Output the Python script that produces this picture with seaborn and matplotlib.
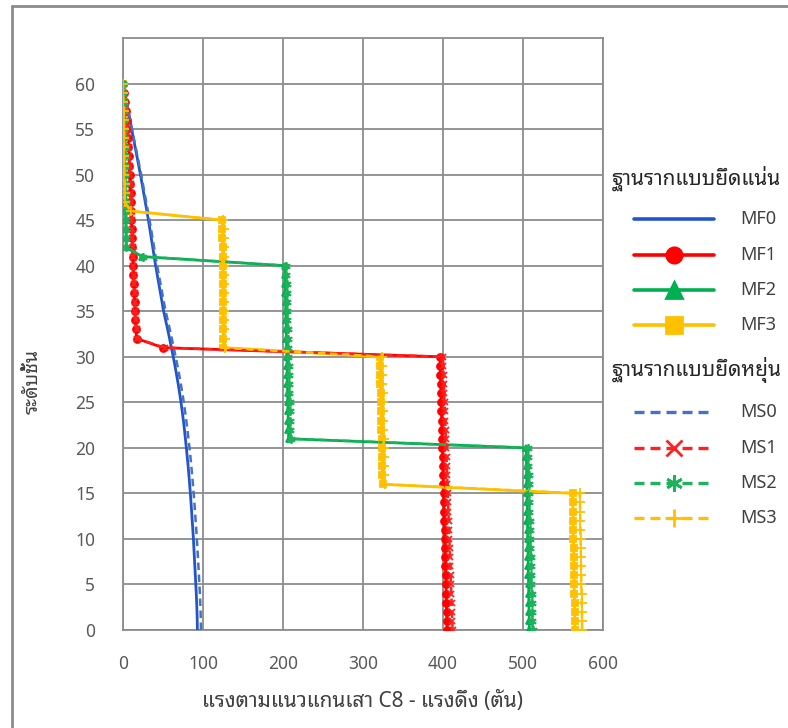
import matplotlib
matplotlib.use('Agg')
import matplotlib.pyplot as plt
from matplotlib.lines import Line2D
from matplotlib import font_manager, ft2font
import seaborn as sns
import pandas as pd

# floors 0..60
floors = list(range(61))

MF0 = [93.0, 92.8, 92.5, 92.1, 91.6, 91.0, 90.4, 89.8, 89.2, 88.6,
       88.0, 87.3, 86.5, 85.8, 85.0, 84.2, 83.3, 82.4, 81.4, 80.3,
       79.2, 78.0, 76.8, 75.5, 74.0, 72.5, 70.8, 69.0, 67.0, 65.0,
       62.8, 60.5, 58.2, 55.8, 53.3, 50.8, 48.8, 46.8, 44.8, 42.8,
       40.8, 39.0, 37.2, 35.4, 33.6, 31.8, 29.8, 27.8, 25.8, 23.8,
       21.8, 19.6, 17.4, 15.2, 13.0, 10.8, 8.6, 6.5, 4.3, 2.1, 0.0]
MS0 = [97.5, 97.3, 97.0, 96.6, 96.1, 95.5, 94.9, 94.3, 93.6, 93.0,
       92.3, 91.6, 90.8, 90.0, 89.2, 88.3, 87.4, 86.4, 85.4, 84.3,
       83.1, 81.8, 80.5, 79.1, 77.6, 76.0, 74.2, 72.3, 70.3, 68.1,
       65.8, 63.4, 61.0, 58.5, 55.9, 53.3, 51.1, 49.0, 46.9, 44.8,
       42.7, 40.8, 38.9, 37.0, 35.1, 33.2, 31.1, 29.0, 26.9, 24.8,
       22.7, 20.4, 18.1, 15.8, 13.5, 11.2, 8.9, 6.7, 4.5, 2.2, 0.0]
MF1 = [405.0, 404.8, 404.5, 404.2, 404.0, 403.7, 403.4, 403.1, 402.8, 402.5,
       402.2, 401.9, 401.6, 401.3, 401.0, 400.7, 400.4, 400.1, 399.8, 399.5,
       399.2, 398.9, 398.6, 398.3, 398.0, 397.7, 397.4, 397.1, 396.8, 396.5,
       396.2, 50.0, 17.0, 16.3, 15.6, 15.0, 14.5, 14.0, 13.5, 13.0,
       12.6, 12.2, 11.8, 11.4, 11.0, 10.6, 10.2, 9.8, 9.4, 9.0,
       8.5, 8.0, 7.4, 6.8, 6.1, 5.4, 4.6, 3.7, 2.7, 1.5, 0.0]
MS1 = [412.0, 411.6, 411.2, 410.8, 410.4, 410.0, 409.6, 409.2, 408.8, 408.4,
       408.0, 407.6, 407.2, 406.8, 406.4, 406.0, 405.6, 405.2, 404.8, 404.4,
       404.0, 403.6, 403.2, 402.8, 402.4, 402.0, 401.6, 401.2, 400.8, 400.4,
       400.0, 52.0, 17.6, 16.9, 16.2, 15.6, 15.0, 14.5, 14.0, 13.5,
       13.1, 12.7, 12.2, 11.8, 11.4, 11.0, 10.6, 10.2, 9.8, 9.4,
       8.9, 8.4, 7.8, 7.1, 6.4, 5.6, 4.8, 3.8, 2.8, 1.6, 0.0]
MF2 = [508.0, 507.8, 507.6, 507.4, 507.2, 507.0, 506.8, 506.6, 506.4, 506.2,
       506.0, 505.8, 505.6, 505.4, 505.2, 505.0, 504.8, 504.6, 504.4, 504.2,
       504.0, 207.0, 206.8, 206.5, 206.3, 206.0, 205.8, 205.5, 205.3, 205.0,
       204.8, 204.5, 204.3, 204.0, 203.8, 203.5, 203.3, 203.0, 202.8, 202.5,
       202.3, 24.0, 4.0, 3.8, 3.6, 3.4, 3.2, 3.0, 2.8, 2.6,
       2.4, 2.2, 2.0, 1.8, 1.6, 1.4, 1.2, 1.0, 0.7, 0.4, 0.0]
MS2 = [512.0, 511.7, 511.4, 511.1, 510.8, 510.5, 510.2, 509.9, 509.6, 509.3,
       509.0, 508.7, 508.4, 508.1, 507.8, 507.5, 507.2, 506.9, 506.6, 506.3,
       506.0, 209.5, 209.2, 208.9, 208.6, 208.3, 208.0, 207.7, 207.4, 207.1,
       206.8, 206.5, 206.2, 205.9, 205.6, 205.3, 205.0, 204.7, 204.4, 204.1,
       203.8, 25.0, 4.2, 4.0, 3.8, 3.6, 3.4, 3.2, 3.0, 2.8,
       2.6, 2.4, 2.2, 2.0, 1.8, 1.6, 1.3, 1.0, 0.7, 0.4, 0.0]
MF3 = [565.0, 564.8, 564.6, 564.4, 564.2, 564.0, 563.8, 563.6, 563.4, 563.2,
       563.0, 562.8, 562.6, 562.4, 562.2, 562.0, 324.5, 324.3, 324.0, 323.8,
       323.5, 323.3, 323.0, 322.8, 322.5, 322.3, 322.0, 321.8, 321.5, 321.3,
       321.0, 125.5, 125.4, 125.3, 125.2, 125.1, 125.0, 124.9, 124.8, 124.7,
       124.6, 124.5, 124.4, 124.3, 124.2, 124.0, 9.0, 2.0, 1.9, 1.8,
       1.7, 1.6, 1.5, 1.4, 1.3, 1.1, 0.9, 0.7, 0.5, 0.3, 0.0]
MS3 = [574.0, 573.8, 573.6, 573.4, 573.2, 573.0, 572.8, 572.6, 572.4, 572.2,
       572.0, 571.8, 571.6, 571.4, 571.2, 571.0, 327.0, 326.8, 326.5, 326.3,
       326.0, 325.8, 325.5, 325.3, 325.0, 324.8, 324.5, 324.3, 324.0, 323.8,
       323.5, 127.0, 126.9, 126.8, 126.7, 126.6, 126.5, 126.4, 126.3, 126.2,
       126.1, 126.0, 125.9, 125.8, 125.7, 125.5, 9.5, 2.1, 2.0, 1.9,
       1.8, 1.7, 1.6, 1.5, 1.4, 1.2, 1.0, 0.8, 0.5, 0.3, 0.0]

title_fixed = 'ฐานรากแบบยึดแน่น'
title_flex = 'ฐานรากแบบยึดหยุ่น'
x_label = 'แรงตามแนวแกนเสา C8 - แรงดึง (ตัน)'
y_label = 'ระดับชั้น'

series = {'MF0': MF0, 'MF1': MF1, 'MF2': MF2, 'MF3': MF3,
          'MS0': MS0, 'MS1': MS1, 'MS2': MS2, 'MS3': MS3}

dash = (0, (3, 1.8))
styles = {
    'MF0': dict(color='#2255CC', ls='-', marker=None, lw=2.0, ms=0),
    'MF1': dict(color='#FF0000', ls='-', marker='o', lw=2.0, ms=5),
    'MF2': dict(color='#00B050', ls='-', marker='^', lw=2.0, ms=5),
    'MF3': dict(color='#FFC000', ls='-', marker='s', lw=2.0, ms=5),
    'MS0': dict(color='#4472C4', ls=dash, marker=None, lw=1.8, ms=0),
    'MS1': dict(color='#FF2020', ls=dash, marker='x', lw=1.8, ms=5),
    'MS2': dict(color='#1DB35A', ls=dash, marker=(6, 2, 0), lw=1.8, ms=6),
    'MS3': dict(color='#FFC000', ls=dash, marker='+', lw=1.8, ms=7),
}


def thai_fonts():
    names = set()
    for f in font_manager.fontManager.ttflist:
        try:
            ft = ft2font.FT2Font(f.fname)
            if ft.get_char_index(ord('ก')) and ft.get_char_index(ord('0')):
                names.add(f.name)
        except Exception:
            pass
    return sorted(names)


sns.set_style('white')
available = thai_fonts()
preferred = ['Noto Sans Thai Looped', 'Noto Sans Thai', 'Sarabun', 'IBM Plex Sans Thai Looped']
thai = [n for n in preferred if n in available] + available
plt.rcParams['font.family'] = thai[:1] + ['DejaVu Sans']

rows = []
for name, vals in series.items():
    for fl, v in zip(floors, vals):
        rows.append((name, fl, v))
df = pd.DataFrame(rows, columns=['series', 'floor', 'force'])

fig = plt.figure(figsize=(7.88, 7.28), dpi=100)
ax = fig.add_axes([123 / 788, 1 - 630 / 728, 480 / 788, 592 / 728])

grid_c = '#8C8C8C'
for name in series:
    st = styles[name]
    sub = df[df['series'] == name]
    sns.lineplot(data=sub, x='force', y='floor', sort=False, estimator=None,
                 errorbar=None, ax=ax, color=st['color'], linestyle=st['ls'],
                 linewidth=st['lw'], marker=st['marker'], markersize=st['ms'],
                 markeredgewidth=1.3, markeredgecolor=st['color'], zorder=3)

ax.set_xlim(0, 600)
ax.set_ylim(0, 65)
ax.set_xticks(range(0, 601, 100))
ax.set_yticks(range(0, 61, 5))
ax.grid(True, color=grid_c, linewidth=1.3)
ax.set_axisbelow(True)
for sp in ax.spines.values():
    sp.set_color(grid_c)
    sp.set_linewidth(1.3)
ax.tick_params(axis='both', length=0, labelsize=12.5, labelcolor='#595959')
ax.tick_params(axis='x', pad=18)
ax.tick_params(axis='y', pad=20)
ax.set_xlabel(x_label, fontsize=15, color='#404040', labelpad=13)
ax.set_ylabel(y_label, fontsize=14, color='#404040')
ax.yaxis.set_label_coords(-0.167, 0.419)


def fx(px):
    return px / 788


def fy(py):
    return 1 - py / 728


# custom legend on the right
fig.text(fx(612), fy(178), title_fixed, fontsize=15, color='#262626', va='center')
fig.text(fx(612), fy(370), title_flex, fontsize=15, color='#262626', va='center')
legend_rows = [('MF0', 219), ('MF1', 255), ('MF2', 290), ('MF3', 325),
               ('MS0', 412), ('MS1', 448), ('MS2', 483), ('MS3', 518)]
for name, py in legend_rows:
    st = styles[name]
    fig.add_artist(Line2D([fx(634), fx(714)], [fy(py), fy(py)], color=st['color'],
                          linestyle=st['ls'], linewidth=st['lw'] + 0.6))
    if st['marker'] is not None:
        fig.add_artist(Line2D([fx(674)], [fy(py)], color=st['color'], linestyle='none',
                              marker=st['marker'], markersize=st['ms'] + 6,
                              markeredgewidth=2, markeredgecolor=st['color']))
    fig.text(fx(740), fy(py), name, fontsize=13, color='#404040', va='center')

# outer chart border
fig.add_artist(Line2D([fx(12), fx(12)], [fy(6), 0], color=grid_c, linewidth=2))
fig.add_artist(Line2D([fx(12), 1], [fy(6), fy(6)], color=grid_c, linewidth=2))

fig.savefig('out.png', dpi=100)
